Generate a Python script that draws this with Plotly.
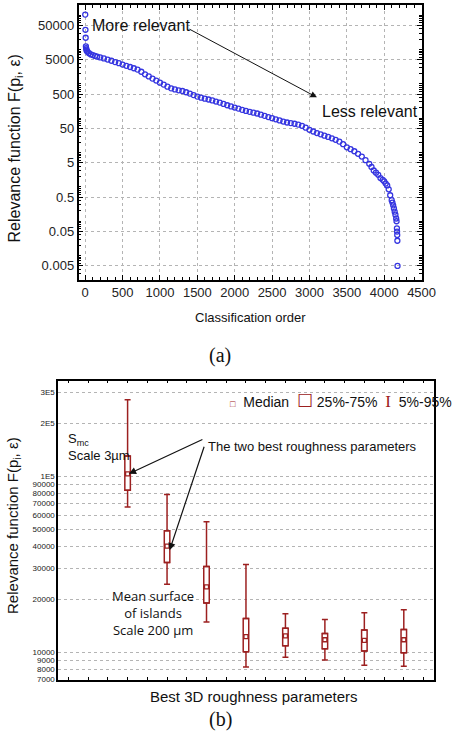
import plotly.graph_objects as go
import math

# ---------------- data: chart (a) ----------------
order = [0, 3, 6, 9, 12, 15, 20, 30, 50, 75, 100, 130, 160, 200, 250, 300, 350, 400, 450, 500,
         550, 600, 650, 700, 750, 800, 850, 900, 950, 1000, 1050, 1100, 1150, 1200, 1250, 1300,
         1350, 1400, 1450, 1500, 1550, 1600, 1650, 1700, 1750, 1800, 1850, 1900, 1950, 2000,
         2050, 2100, 2150, 2200, 2250, 2300, 2350, 2400, 2450, 2500, 2550, 2600, 2650, 2700,
         2750, 2800, 2850, 2900, 2950, 3000, 3050, 3100, 3150, 3200, 3250, 3300, 3350, 3400,
         3450, 3500, 3550, 3600, 3650, 3700, 3750, 3800, 3830, 3860, 3890, 3920, 3950, 3980,
         4000, 4020, 4040, 4060, 4080, 4100, 4110, 4120, 4130, 4140, 4150, 4160, 4165, 4170,
         4172, 4174, 4176, 4178]
relevance = [104000, 37500, 22000, 12400, 11000, 10000, 9200, 8600, 7800, 7200, 6900, 6500, 6200,
             5900, 5500, 5100, 4700, 4300, 4000, 3650, 3350, 3100, 2850, 2600, 2250, 1900, 1650,
             1420, 1250, 1080, 950, 830, 740, 690, 650, 620, 570, 520, 470, 425, 395, 370, 350,
             330, 305, 285, 260, 238, 220, 204, 190, 175, 163, 153, 145, 137, 127, 117, 108, 100,
             93, 86, 80, 75, 72, 69, 65, 60, 53, 46, 41, 37, 34, 31, 28.5, 26, 23.5, 20.8, 17.5,
             14.2, 12.5, 10.9, 9.2, 7.65, 6.0, 4.7, 3.8, 3.0, 2.6, 2.25, 1.81, 1.6, 1.45, 1.25,
             1.1, 0.85, 0.57, 0.41, 0.35, 0.29, 0.235, 0.19, 0.155, 0.12, 0.1, 0.062, 0.05, 0.04,
             0.027, 0.005]
a_yticks = [0.005, 0.05, 0.5, 5, 50, 500, 5000, 50000]
a_yticktext = ["0.005", "0.05", "0.5", "5", "50", "500", "5000", "50000"]

# ---------------- data: chart (b) ----------------
params = [0, 1, 2, 3, 4, 5, 6, 7]
p05 = [67100, 24400, 14900, 8250, 9380, 9060, 8460, 8340]
p25 = [83400, 32400, 19100, 10100, 10900, 10500, 10200, 9950]
med = [103500, 40200, 23600, 12300, 12400, 11800, 11700, 11800]
p75 = [130700, 49200, 30800, 15600, 13700, 12800, 13400, 13500]
p95 = [273000, 78900, 55300, 31600, 16600, 15400, 16800, 17500]
b_yticks = [7000, 8000, 9000, 10000, 20000, 30000, 40000, 50000, 60000, 70000, 80000, 90000,
            100000, 200000, 300000]
b_yticktext = ["7000", "8000", "9000", "10000", "20000", "30000", "40000", "50000", "60000",
               "70000", "80000", "90000", "1E5", "2E5", "3E5"]

W, H = 454, 736
BLUE = "#3535e0"
RED = "#9c2020"
FONT = "Liberation Sans"


def px(x):
    return x / W


def py(y):
    return 1 - y / H


fig = go.Figure()

fig.add_trace(go.Scatter(
    x=order, y=relevance, mode="markers", xaxis="x", yaxis="y",
    marker=dict(symbol="circle-open", size=5, color=BLUE, line=dict(width=1.3, color=BLUE)),
    showlegend=False))

# boxes (25%-75%)
fig.add_trace(go.Bar(
    x=params, base=p25, y=[b - a for a, b in zip(p25, p75)], width=0.14,
    xaxis="x2", yaxis="y2",
    marker=dict(color="white", line=dict(color=RED, width=1.5)),
    showlegend=False))
# whiskers (5%-95%)
fig.add_trace(go.Scatter(
    x=params, y=p75, mode="markers", xaxis="x2", yaxis="y2",
    marker=dict(size=1, color="rgba(0,0,0,0)"),
    error_y=dict(type="data", symmetric=False, array=[b - a for a, b in zip(p75, p95)],
                 arrayminus=[0] * len(params), color=RED, thickness=1.5, width=3),
    showlegend=False))
fig.add_trace(go.Scatter(
    x=params, y=p25, mode="markers", xaxis="x2", yaxis="y2",
    marker=dict(size=1, color="rgba(0,0,0,0)"),
    error_y=dict(type="data", symmetric=False, array=[0] * len(params),
                 arrayminus=[a - b for a, b in zip(p25, p05)], color=RED, thickness=1.5, width=3),
    showlegend=False))
# medians
fig.add_trace(go.Scatter(
    x=params, y=med, mode="markers", xaxis="x2", yaxis="y2",
    marker=dict(symbol="square-open", size=4, color=RED, line=dict(width=1.3, color=RED)),
    showlegend=False))

grid = dict(showgrid=True, gridcolor="#b4b4b4", griddash="dot", gridwidth=1)
frame = dict(showline=True, linecolor="black", linewidth=1.5, mirror="all", zeroline=False)
tickfont = dict(family=FONT, size=13, color="#222")

fig.update_layout(
    width=W, height=H, margin=dict(l=0, r=0, t=0, b=0),
    paper_bgcolor="white", plot_bgcolor="white",
    showlegend=False,
    xaxis=dict(domain=[px(81), px(435)], anchor="y", range=[-90, 4500],
               tickmode="linear", tick0=0, dtick=500, ticks="inside", ticklen=5,
               tickcolor="black", tickfont=tickfont,
               minor=dict(ticks="inside", ticklen=3, dtick=100, tickcolor="black"),
               **grid, **frame),
    yaxis=dict(domain=[py(282), py(5)], anchor="x", type="log",
               range=[-2.714, 5.297], tickmode="array", tickvals=a_yticks,
               ticktext=a_yticktext, ticks="inside", ticklen=5, tickcolor="black",
               tickfont=tickfont,
               minor=dict(ticks="inside", ticklen=3, dtick="D1", tickcolor="black"),
               **grid, **frame),
    xaxis2=dict(domain=[px(60), px(448)], anchor="y2", range=[-1.76, 7.77],
                tickmode="linear", tick0=0, dtick=0.5, ticks="inside", ticklen=3,
                tickcolor="black", showticklabels=False, showgrid=False, **frame),
    yaxis2=dict(domain=[py(684.3), py(383.3)], anchor="x2", type="log",
                range=[math.log10(7000), math.log10(350000)], tickmode="array",
                tickvals=b_yticks, ticktext=b_yticktext, ticks="",
                tickfont=dict(family=FONT, size=8, color="#222"),
                **grid, **frame),
)

legend_text = (
    f"<span style='color:{RED};font-size:9px'>□</span>  Median  "
    f"<span style='color:{RED};font-size:18px'>☐</span> 25%-75%  "
    f"<span style='color:{RED};font-family:Liberation Serif;font-size:17px'>I</span>  5%-95%"
)


def note(x, y, text, size=13, family=FONT, xanchor="center", angle=0, align="center"):
    return dict(x=px(x), y=py(y), xref="paper", yref="paper", showarrow=False,
                xanchor=xanchor, yanchor="middle", text=text, textangle=angle, align=align,
                font=dict(family=family, size=size, color="#111"))


def arrow(hx, hy, tx, ty, head=2, size=1.2, width=1.2):
    return dict(x=px(hx), y=py(hy), xref="paper", yref="paper", showarrow=True,
                ax=tx - hx, ay=ty - hy, arrowhead=head, arrowsize=size, arrowwidth=width,
                arrowcolor="#111", text="")


ann = [
    # chart (a)
    note(16, 150, "Relevance function F(p<sub>i</sub>, ε)", size=16, angle=-90),
    note(258, 320, "Classification order", size=13),
    note(93, 26, "More relevant", size=16, xanchor="left"),
    note(330, 112, "Less relevant", size=16, xanchor="left"),
    arrow(327, 98, 198, 29, head=2, size=1.3, width=1),
    note(227, 358, "(a)", size=20, family="Liberation Serif"),
    # chart (b)
    note(14, 529, "Relevance function F(p<sub>i</sub>, ε)", size=15, angle=-90),
    note(262, 701, "Best 3D roughness parameters", size=15),
    note(227, 724, "(b)", size=20, family="Liberation Serif"),
    note(235, 404, legend_text, size=14, xanchor="left"),
    note(68, 443, "S<sub>mc</sub>", size=13, xanchor="left"),
    note(68, 459, "Scale 3µm", size=13, xanchor="left"),
    note(213, 450, "The two best roughness parameters", size=13, xanchor="left"),
    note(158, 617, "Mean surface<br>of islands<br>Scale 200 µm", size=13, family="Open Sans"),
    arrow(133, 477, 208, 442),
    arrow(175, 554, 210, 449),
]
fig.update_layout(annotations=ann)

fig.write_html("out.html")
